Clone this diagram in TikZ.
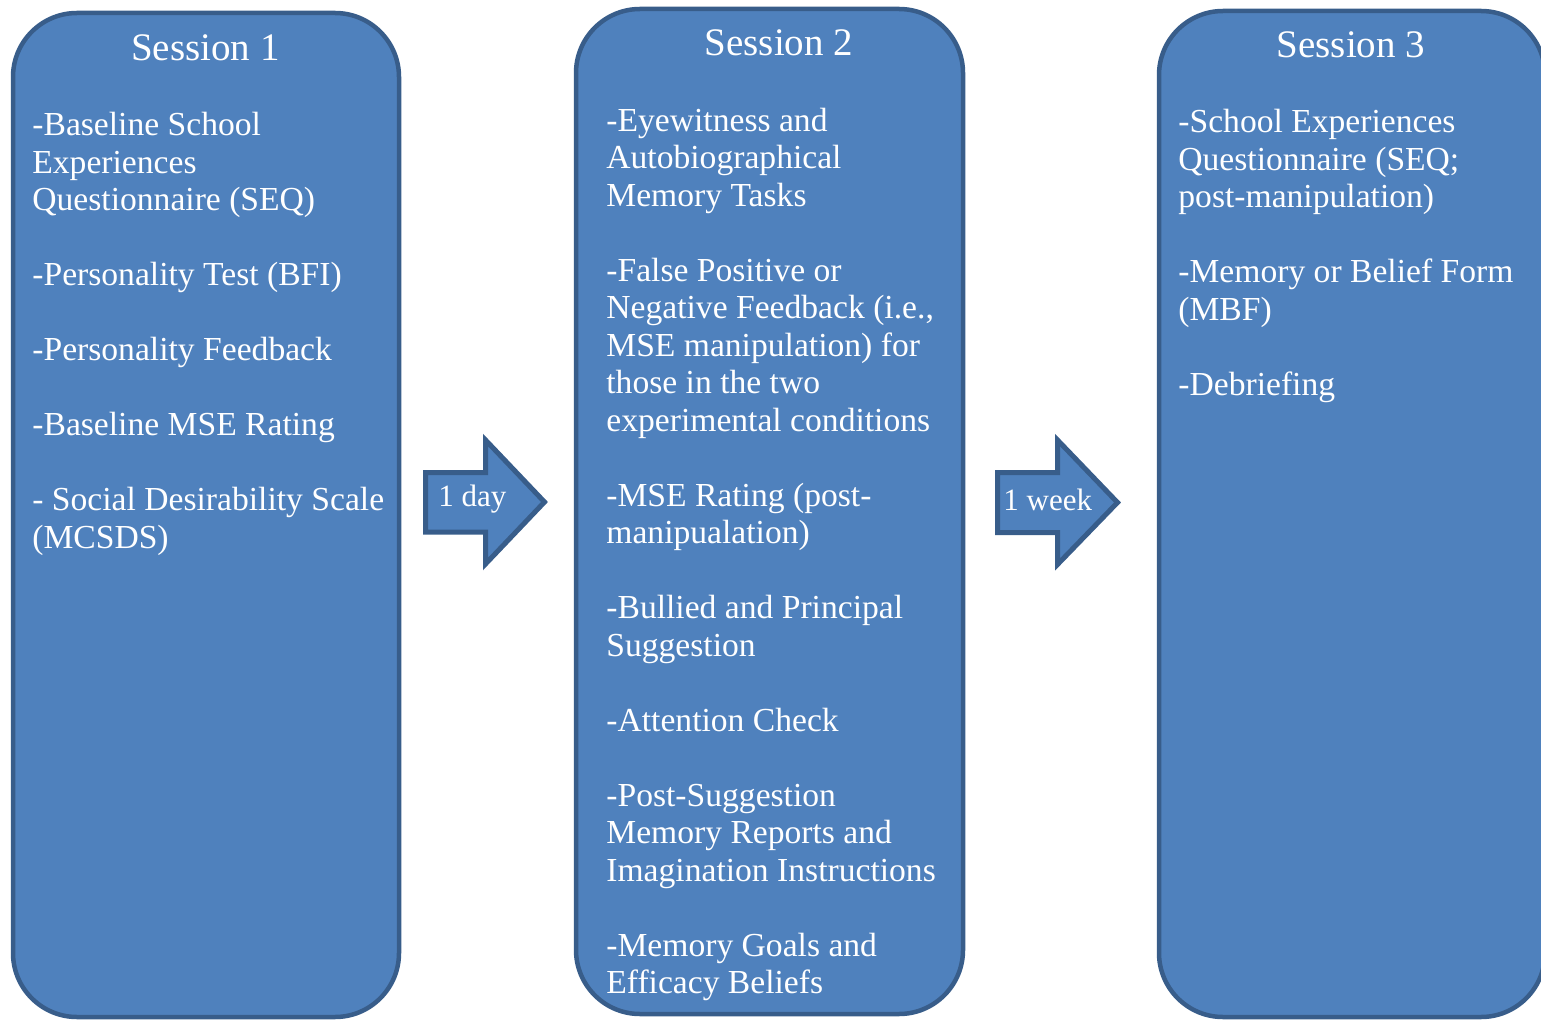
\documentclass[tikz,border=0pt]{standalone}
\usepackage{fontspec}
\setmainfont{Liberation Serif}
\definecolor{boxfill}{HTML}{4F81BD}
\definecolor{boxline}{HTML}{385D8A}
\tikzset{
  session/.style={draw=boxline, fill=boxfill, line width=2.25pt, rounded corners=32pt},
  blockarrow/.style={draw=boxline, fill=boxfill, line width=2.5pt, line join=miter},
  sesstitle/.style={text=white, inner sep=0pt, anchor=base, font=\fontsize{19.5}{23}\selectfont},
  sessitems/.style={text=white, inner sep=0pt, anchor=base west, align=left, font=\fontsize{16.8}{18.75}\selectfont},
  waitlabel/.style={text=white, inner sep=0pt, anchor=base west, font=\fontsize{15.5}{18}\selectfont}
}
% empty line between two items
\newcommand{\sessgap}{\\[18.75pt]}
\begin{document}
\begin{tikzpicture}[x=0.5pt,y=0.5pt,yscale=-1,xscale=1]
\useasboundingbox (0,0) rectangle (1541,1021);

%Shape: Rounded Rect [session 1]
\draw [session] (13,13) rectangle (399,1017);
%Shape: Rounded Rect [session 2]
\draw [session] (576,9) rectangle (963,1014);
%Shape: Rounded Rect [session 3]
\draw [session] (1159,11) rectangle (1545,1017);

%Shape: Right Arrow [1 day]
\draw [blockarrow] (425.5,472.5) -- (485.5,472.5) -- (485.5,440) -- (544.5,502) -- (485.5,564) -- (485.5,532) -- (425.5,532) -- cycle ;
%Shape: Right Arrow [1 week]
\draw [blockarrow] (997.5,472.5) -- (1057.5,472.5) -- (1057.5,440) -- (1117.5,502.5) -- (1057.5,564.5) -- (1057.5,532.5) -- (997.5,532.5) -- cycle ;

% Text Node
\draw (205.5,61) node [sesstitle] (t1) {Session 1};
% Text Node
\draw (779,56) node [sesstitle] (t2) {Session 2};
% Text Node
\draw (1351,58) node [sesstitle] (t3) {Session 3};

% Text Node (base = last line)
\draw (32,548) node [sessitems] (items1) {-Baseline School\\Experiences\\Questionnaire (SEQ)\sessgap
-Personality Test (BFI)\sessgap
-Personality Feedback\sessgap
-Baseline MSE Rating\sessgap
- Social Desirability Scale\\(MCSDS)};
% Text Node (base = last line)
\draw (606,993.5) node [sessitems] (items2) {-Eyewitness and\\Autobiographical\\Memory Tasks\sessgap
-False Positive or\\Negative Feedback (i.e.,\\MSE manipulation) for\\those in the two\\experimental conditions\sessgap
-MSE Rating (post-\\manipualation)\sessgap
-Bullied and Principal\\Suggestion\sessgap
-Attention Check\sessgap
-Post-Suggestion\\Memory Reports and\\Imagination Instructions\sessgap
-Memory Goals and\\Efficacy Beliefs};
% Text Node (base = last line)
\draw (1178,395.5) node [sessitems] (items3) {-School Experiences\\Questionnaire (SEQ;\\post-manipulation)\sessgap
-Memory or Belief Form\\(MBF)\sessgap
-Debriefing};

% Text Node
\draw (438,506) node [waitlabel] (wait1) {1 day};
% Text Node
\draw (1003,510) node [waitlabel] (wait2) {1 week};

\end{tikzpicture}
\end{document}
